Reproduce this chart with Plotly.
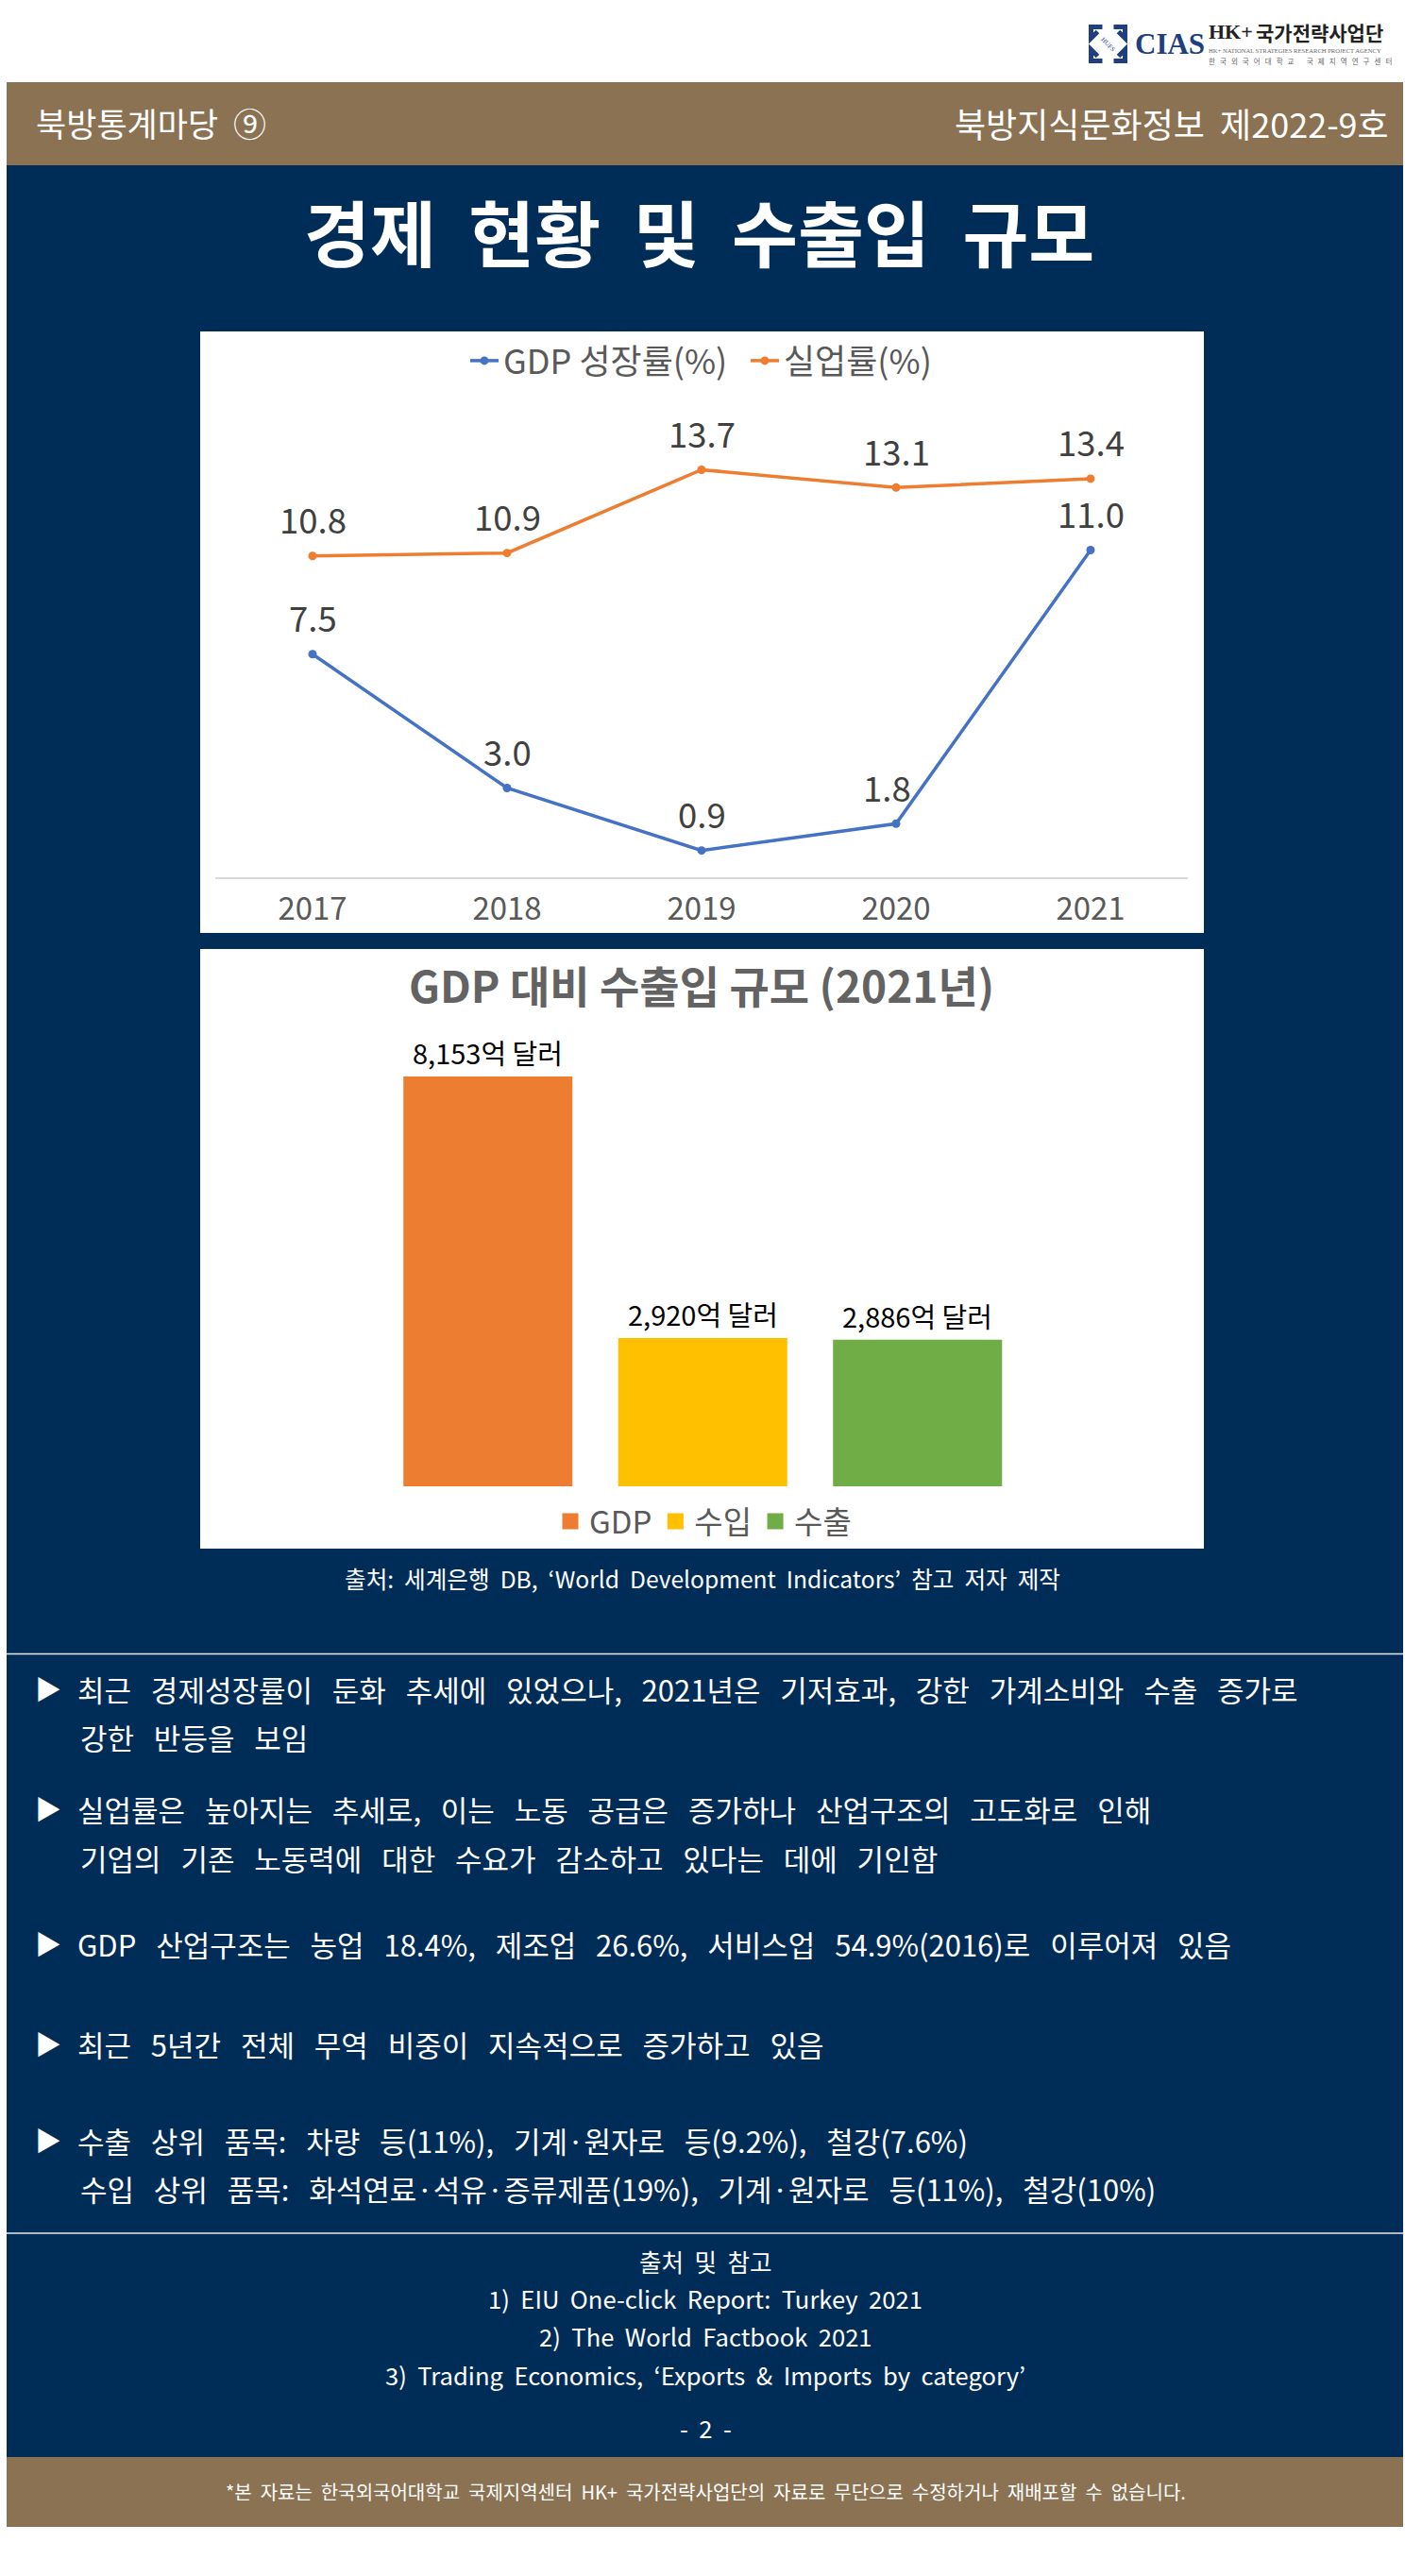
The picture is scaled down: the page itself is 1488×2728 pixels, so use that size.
import plotly.graph_objects as go

W, H = 1488, 2728
FONT = "Noto Sans CJK KR"
NAVY = "#002D57"
BROWN = "#8B7253"

years = ["2017", "2018", "2019", "2020", "2021"]
gdp_growth = [7.5, 3.0, 0.9, 1.8, 11.0]
unemployment = [10.8, 10.9, 13.7, 13.1, 13.4]

trade_names = ["GDP", "수입", "수출"]
trade_values = [8153, 2920, 2886]
trade_labels = ["8,153억 달러", "2,920억 달러", "2,886억 달러"]
trade_colors = ["#ED7D31", "#FFC000", "#70AD47"]

main_title = "경제  현황  및  수출입  규모"
header_left = "북방통계마당  ⑨"
header_right = "북방지식문화정보  제2022-9호"
chart2_title = "GDP 대비 수출입 규모 (2021년)"
source_line = "출처:  세계은행  DB,  ‘World  Development  Indicators’  참고  저자  제작"
footer_note = "*본  자료는  한국외국어대학교  국제지역센터  HK+  국가전략사업단의  자료로  무단으로  수정하거나  재배포할  수  없습니다."

# (y, has bullet, text)
body_lines = [
    (1788, True, "최근   경제성장률이   둔화   추세에   있었으나,   2021년은   기저효과,   강한   가계소비와   수출   증가로"),
    (1840, False, "강한   반등을   보임"),
    (1915, True, "실업률은   높아지는   추세로,   이는   노동   공급은   증가하나   산업구조의   고도화로   인해"),
    (1967, False, "기업의   기존   노동력에   대한   수요가   감소하고   있다는   데에   기인함"),
    (2058, True, "GDP   산업구조는   농업   18.4%,   제조업   26.6%,   서비스업   54.9%(2016)로   이루어져   있음"),
    (2164, True, "최근   5년간   전체   무역   비중이   지속적으로   증가하고   있음"),
    (2266, True, "수출   상위   품목:   차량   등(11%),   기계·원자로   등(9.2%),   철강(7.6%)"),
    (2317, False, "수입   상위   품목:   화석연료·석유·증류제품(19%),   기계·원자로   등(11%),   철강(10%)"),
]

refs = [
    (2394, "출처  및  참고"),
    (2433, "1)  EIU  One-click  Report:  Turkey  2021"),
    (2473, "2)  The  World  Factbook  2021"),
    (2514, "3)  Trading  Economics,  ‘Exports  &  Imports  by  category’"),
    (2570, "-  2  -"),
]


def px(x):
    return x / W


def py(y):
    return 1 - y / H


def rect(x0, y0, x1, y1, color):
    return dict(type="rect", xref="paper", yref="paper", x0=px(x0), x1=px(x1),
                y0=py(y1), y1=py(y0), fillcolor=color, line_width=0, layer="below")


def hline(y, x0, x1, color, width):
    return dict(type="line", xref="paper", yref="paper", x0=px(x0), x1=px(x1),
                y0=py(y), y1=py(y), line=dict(color=color, width=width), layer="below")


def label(x, y, text, size, color="white", anchor="left", family=FONT, **kw):
    return dict(xref="paper", yref="paper", x=px(x), y=py(y), text=text, showarrow=False,
                xanchor=anchor, yanchor="middle", font=dict(size=size, color=color, family=family), **kw)


def corner_path(sx, sy):
    # one arm of the logo knot, mirrored around the centre of the icon
    cx, cy = 1173.5, 46.5
    pts = [(6, 18), (18, 18), (18, 6), (11, 13)]
    coords = [(px(cx + sx * a), py(cy + sy * b)) for a, b in pts]
    d = "M" + " L".join(f"{a:.5f},{b:.5f}" for a, b in coords)
    return dict(type="path", xref="paper", yref="paper", path=d,
                line=dict(color="#1F3F7F", width=5), layer="above")


shapes = [
    rect(7, 87, 1486, 175, BROWN),
    rect(7, 175, 1486, 2602, NAVY),
    rect(7, 2602, 1486, 2676, BROWN),
    rect(212, 351, 1275, 988, "white"),
    rect(212, 1005, 1275, 1640, "white"),
    hline(1751.5, 7, 1486, "#E8E8E8", 1.5),
    hline(2365, 7, 1486, "#E8E8E8", 1.5),
]
for sx in (-1, 1):
    for sy in (-1, 1):
        shapes.append(corner_path(sx, sy))

org_line = "   ".join("한국외국어대학교") + " " * 8 + "   ".join("국제지역연구센터")

annotations = [
    label(36, 130, header_left, 35),
    label(1473, 130, header_right, 36, anchor="right"),
    label(740, 244, "<b>" + main_title + "</b>", 76, anchor="center"),
    label(1200, 47, "<b>CIAS</b>", 31, color="#1F3F7F", family="Liberation Serif"),
    label(1278, 34, "<b>HK+</b>", 22, color="#222222", family="Liberation Serif"),
    label(1467, 34, "<b>국가전략사업단</b>", 21, color="#222222", anchor="right"),
    label(1278, 54, "HK+ NATIONAL STRATEGIES RESEARCH PROJECT AGENCY", 6.6, color="#666666",
          family="Liberation Serif"),
    label(1278, 65, org_line, 7.5, color="#666666"),
    label(1173.5, 46.5, "HUFS", 7, color="#1F3F7F", anchor="center", family="Liberation Serif", textangle=45),
    label(743, 1042, "<b>" + chart2_title + "</b>", 46, color="#636363", anchor="center"),
    label(744, 1671, source_line, 24.6, anchor="center"),
    label(747, 2638, footer_note, 20, anchor="center"),
]
for y, bullet, text in body_lines:
    # wrapped lines start a little right of the bulleted ones
    annotations.append(label(80 if bullet else 83, y, text, 31))
    if bullet:
        annotations.append(label(51, y, "▶", 28, anchor="center"))
for y, text in refs:
    annotations.append(label(747, y, text, 25.6, anchor="center"))

# point labels sit a fixed distance above their markers, 1.8 is nudged off the line
for values, shift in ((unemployment, {}), (gdp_growth, {3: -10})):
    for i, v in enumerate(values):
        annotations.append(dict(xref="x", yref="y", x=i, y=v, text=f"{v:.1f}", showarrow=False,
                                xshift=shift.get(i, 0), yshift=39, yanchor="middle",
                                font=dict(size=36.5, color="#404040", family=FONT)))

for i, (value, text) in enumerate(zip(trade_values, trade_labels)):
    annotations.append(dict(xref="x2", yref="y2", x=i, y=value, text=text, showarrow=False,
                            yshift=28, yanchor="middle", font=dict(size=29, color="black", family=FONT)))

fig = go.Figure()

fig.add_trace(go.Scatter(x=years, y=gdp_growth, name="GDP 성장률(%)", mode="lines+markers",
                         line=dict(color="#4472C4", width=3.5), marker=dict(size=9, color="#4472C4"),
                         legend="legend"))
fig.add_trace(go.Scatter(x=years, y=unemployment, name="실업률(%)", mode="lines+markers",
                         line=dict(color="#ED7D31", width=3.5), marker=dict(size=9, color="#ED7D31"),
                         legend="legend"))

for name, value, color in zip(trade_names, trade_values, trade_colors):
    fig.add_trace(go.Bar(x=[name], y=[value], name=name, xaxis="x2", yaxis="y2", width=0.765,
                         marker=dict(color=color, line=dict(color=color, width=5)), legend="legend2"))

fig.update_layout(
    width=W, height=H, autosize=False,
    margin=dict(l=0, r=0, t=0, b=0),
    paper_bgcolor="white", plot_bgcolor="rgba(0,0,0,0)",
    font=dict(family=FONT),
    barmode="overlay",
    shapes=shapes,
    annotations=annotations,
    xaxis=dict(domain=[px(228), px(1258)], range=[-0.5, 4.5], type="category", anchor="y",
               showgrid=False, showline=True, linecolor="#D9D9D9", linewidth=1.5, ticks="",
               tickfont=dict(size=33, color="#595959"), ticklabelstandoff=4),
    yaxis=dict(domain=[py(929), py(425)], range=[0, 16], visible=False),
    xaxis2=dict(domain=[px(403), px(1085.5)], range=[-0.5, 2.5], type="category", anchor="y2",
                visible=False),
    yaxis2=dict(domain=[py(1574), py(1095)], range=[0, 9050], visible=False),
    legend=dict(orientation="h", x=px(493), y=py(382), xanchor="left", yanchor="middle",
                font=dict(size=36, color="#595959"), itemwidth=30, entrywidth=252,
                bgcolor="rgba(0,0,0,0)"),
    legend2=dict(orientation="h", x=px(584), y=py(1611), xanchor="left", yanchor="middle",
                 font=dict(size=33, color="#595959"), itemwidth=30, bgcolor="rgba(0,0,0,0)"),
)

# the page's default body margin would push the figure off the window
fig.write_html("out.html", config={"displayModeBar": False},
               post_script="document.body.style.margin='0';")
